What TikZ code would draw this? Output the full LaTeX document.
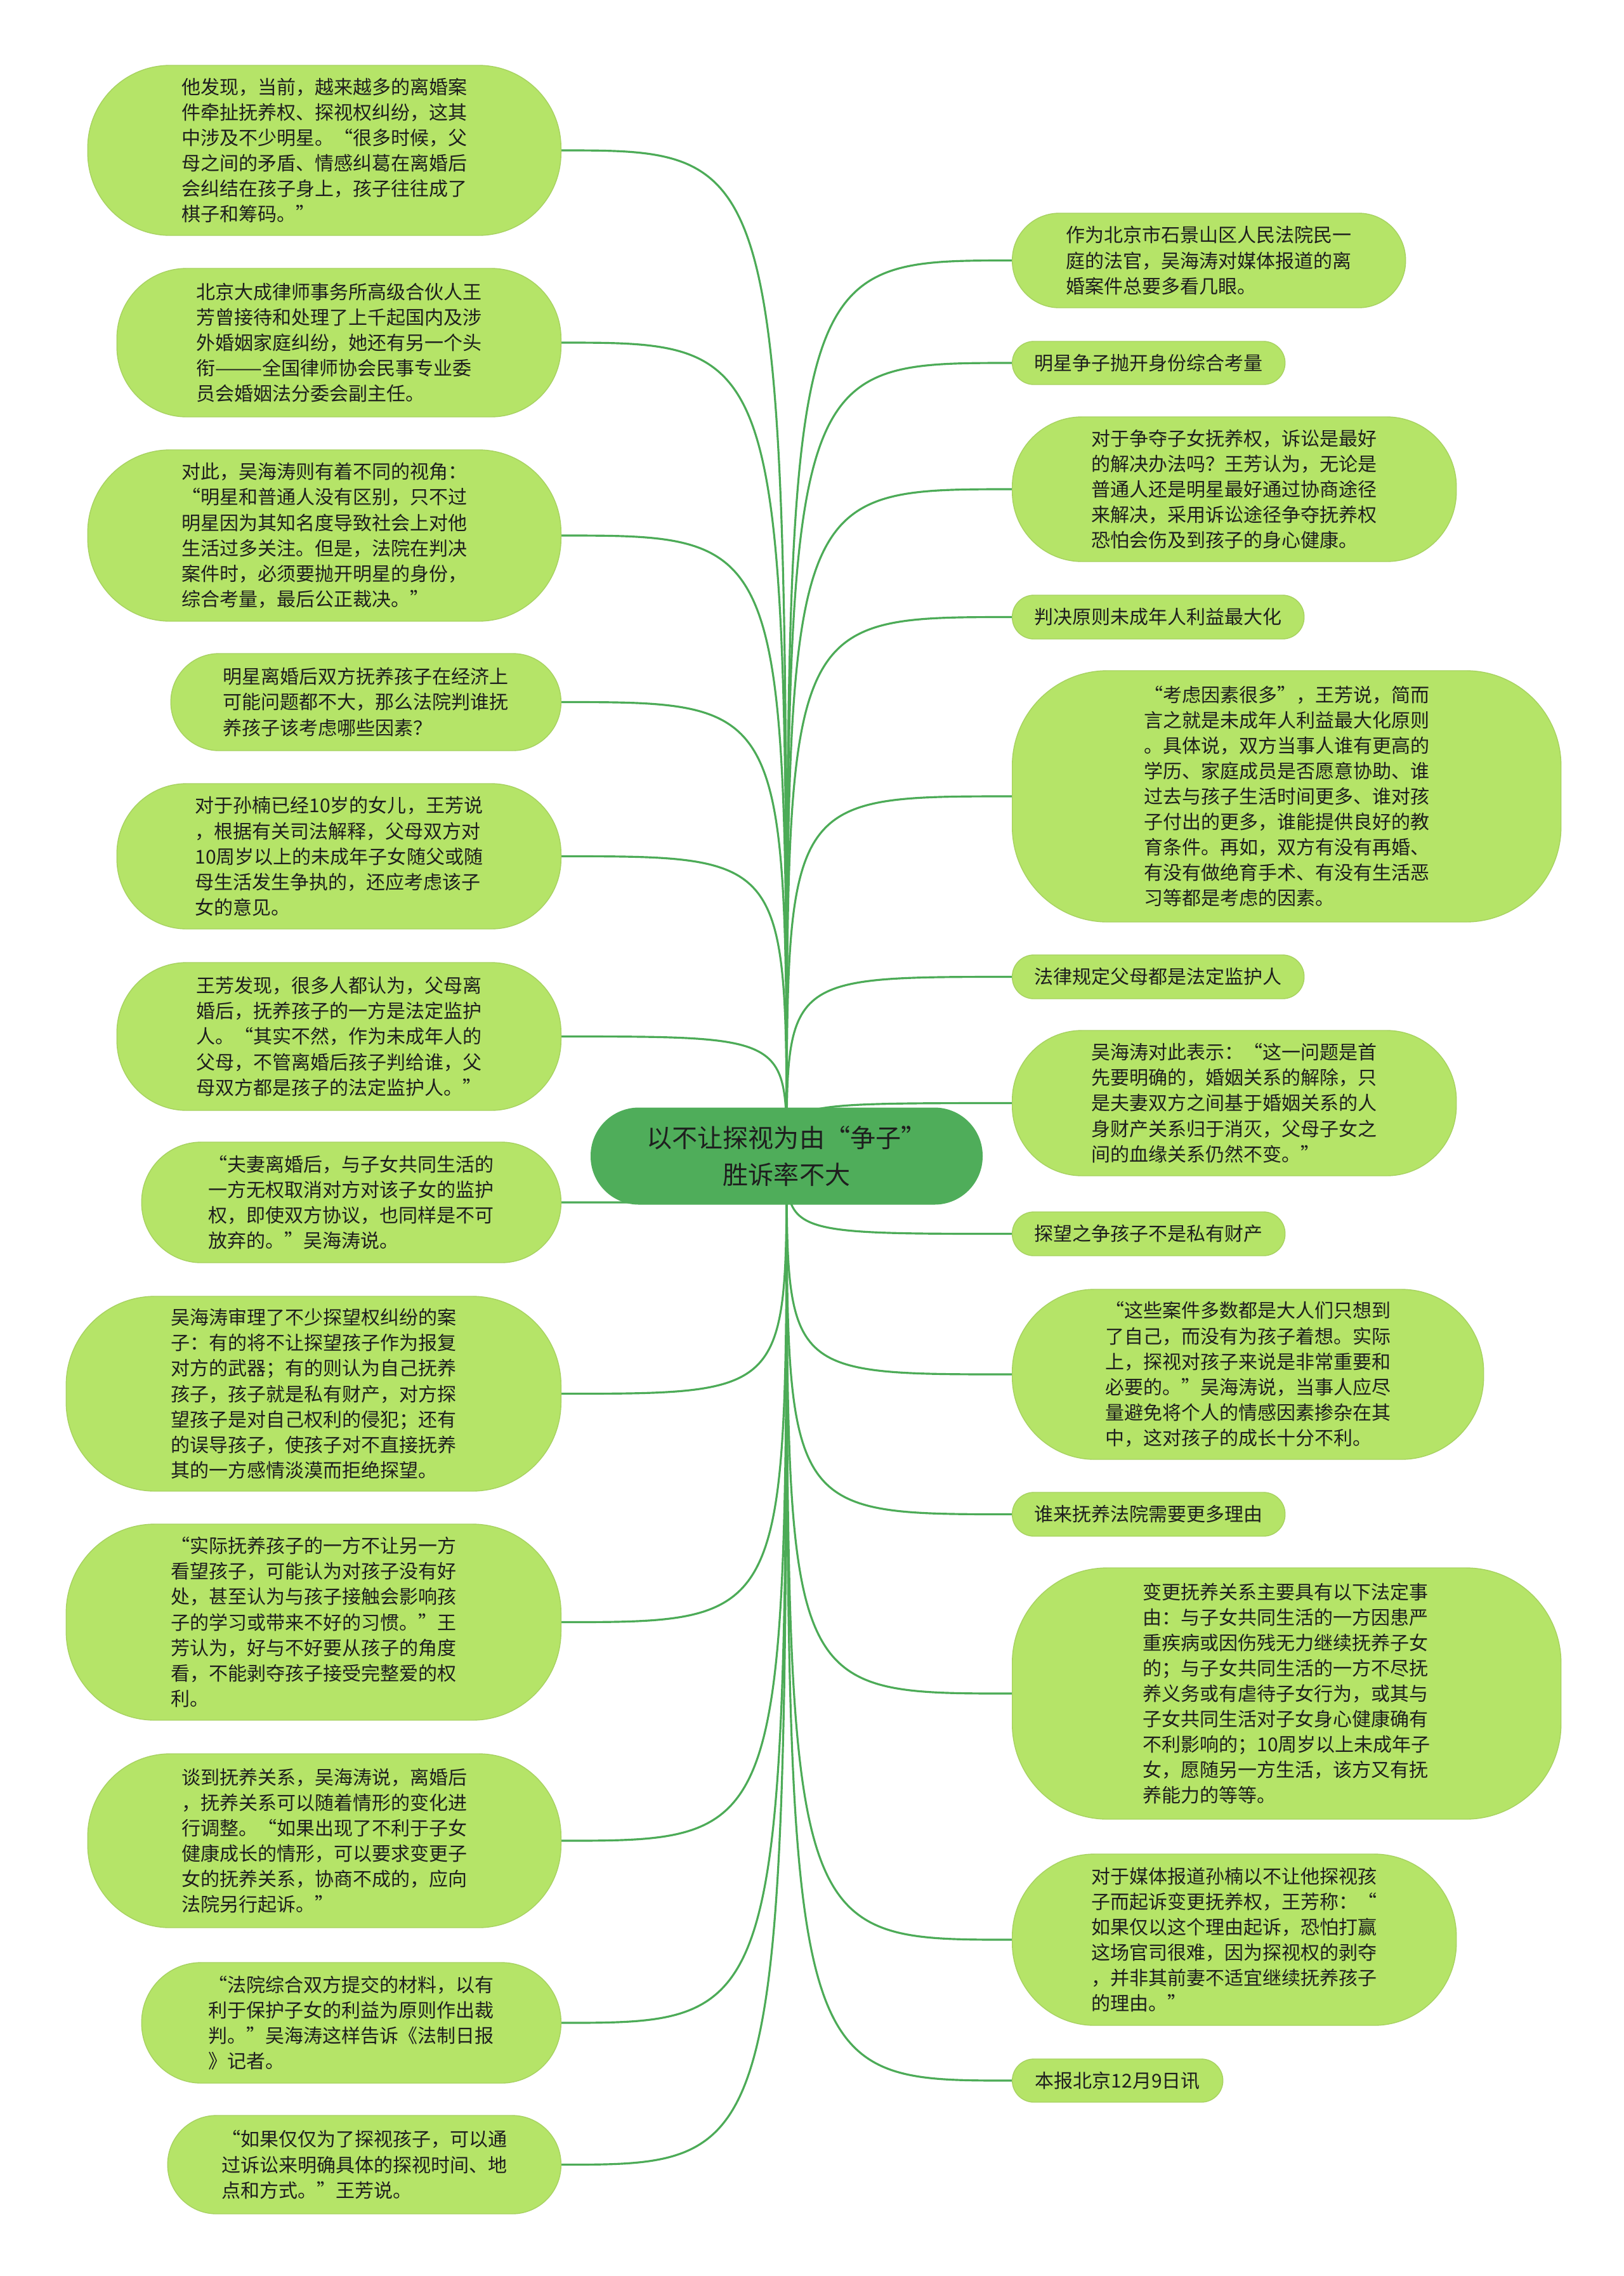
\documentclass[tikz,border=0pt]{standalone}
\usepackage{fontspec}
\usepackage{tikz}
\usetikzlibrary{backgrounds}
\newfontfamily\cjk{Noto Sans CJK SC}

\definecolor{leafgreen}{HTML}{B5E468}
\definecolor{rootgreen}{HTML}{4FAD5A}
\definecolor{linkgreen}{HTML}{4CAB57}
\definecolor{inkgray}{HTML}{1E1E1E}

\tikzset{
  rootbox/.style={fill=rootgreen, text=inkgray, align=center, inner sep=0pt,
    font=\cjk\fontsize{11.4}{16.5}\selectfont},
  topic/.style={fill=leafgreen, draw=leafgreen!92!black, line width=0.4pt,
    text=inkgray, align=left, inner sep=0pt,
    font=\cjk\fontsize{8.54}{11.4}\selectfont},
  boxdim/.style n args={3}{minimum width=#1cm, minimum height=#2cm, rounded corners=#3cm},
  link/.style={draw=linkgreen, line width=0.9pt},
}

\begin{document}
\begin{tikzpicture}[x=1cm, y=-1cm]
  \useasboundingbox (0,0) rectangle (25.6,35.87);

  % central topic
  \node[rootbox, boxdim={6.18}{1.53}{0.76}] (root) at (12.40,18.22)
    {以不让探视为由“争子”\\胜诉率不大};

  % left branch
  \node[topic, boxdim={7.46}{2.68}{1.3}, anchor=east] (l1) at (8.85,2.37)
    {他发现，当前，越来越多的离婚案\\件牵扯抚养权、探视权纠纷，这其\\中涉及不少明星。“很多时候，父\\母之间的矛盾、情感纠葛在离婚后\\会纠结在孩子身上，孩子往往成了\\棋子和筹码。”};
  \node[topic, boxdim={7.00}{2.34}{1.1}, anchor=east] (l2) at (8.85,5.40)
    {北京大成律师事务所高级合伙人王\\芳曾接待和处理了上千起国内及涉\\外婚姻家庭纠纷，她还有另一个头\\衔———全国律师协会民事专业委\\员会婚姻法分委会副主任。};
  \node[topic, boxdim={7.46}{2.70}{1.3}, anchor=east] (l3) at (8.85,8.44)
    {对此，吴海涛则有着不同的视角：\\“明星和普通人没有区别，只不过\\明星因为其知名度导致社会上对他\\生活过多关注。但是，法院在判决\\案件时，必须要抛开明星的身份，\\综合考量，最后公正裁决。”};
  \node[topic, boxdim={6.15}{1.53}{0.76}, anchor=east] (l4) at (8.85,11.065)
    {明星离婚后双方抚养孩子在经济上\\可能问题都不大，那么法院判谁抚\\养孩子该考虑哪些因素？};
  \node[topic, boxdim={7.00}{2.29}{1.1}, anchor=east] (l5) at (8.85,13.495)
    {对于孙楠已经10岁的女儿，王芳说\\，根据有关司法解释，父母双方对\\10周岁以上的未成年子女随父或随\\母生活发生争执的，还应考虑该子\\女的意见。};
  \node[topic, boxdim={7.00}{2.33}{1.1}, anchor=east] (l6) at (8.85,16.335)
    {王芳发现，很多人都认为，父母离\\婚后，抚养孩子的一方是法定监护\\人。“其实不然，作为未成年人的\\父母，不管离婚后孩子判给谁，父\\母双方都是孩子的法定监护人。”};
  \node[topic, boxdim={6.61}{1.90}{0.94}, anchor=east] (l7) at (8.85,18.95)
    {“夫妻离婚后，与子女共同生活的\\一方无权取消对方对该子女的监护\\权，即使双方协议，也同样是不可\\放弃的。”吴海涛说。};
  \node[topic, boxdim={7.80}{3.07}{1.4}, anchor=east] (l8) at (8.85,21.965)
    {吴海涛审理了不少探望权纠纷的案\\子：有的将不让探望孩子作为报复\\对方的武器；有的则认为自己抚养\\孩子，孩子就是私有财产，对方探\\望孩子是对自己权利的侵犯；还有\\的误导孩子，使孩子对不直接抚养\\其的一方感情淡漠而拒绝探望。};
  \node[topic, boxdim={7.80}{3.09}{1.4}, anchor=east] (l9) at (8.85,25.565)
    {“实际抚养孩子的一方不让另一方\\看望孩子，可能认为对孩子没有好\\处，甚至认为与孩子接触会影响孩\\子的学习或带来不好的习惯。”王\\芳认为，好与不好要从孩子的角度\\看，不能剥夺孩子接受完整爱的权\\利。};
  \node[topic, boxdim={7.46}{2.74}{1.3}, anchor=east] (l10) at (8.85,29.01)
    {谈到抚养关系，吴海涛说，离婚后\\，抚养关系可以随着情形的变化进\\行调整。“如果出现了不利于子女\\健康成长的情形，可以要求变更子\\女的抚养关系，协商不成的，应向\\法院另行起诉。”};
  \node[topic, boxdim={6.61}{1.90}{0.94}, anchor=east] (l11) at (8.85,31.88)
    {“法院综合双方提交的材料，以有\\利于保护子女的利益为原则作出裁\\判。”吴海涛这样告诉《法制日报\\》记者。};
  \node[topic, boxdim={6.20}{1.55}{0.77}, anchor=east] (l12) at (8.85,34.115)
    {“如果仅仅为了探视孩子，可以通\\过诉讼来明确具体的探视时间、地\\点和方式。”王芳说。};

  % right branch
  \node[topic, boxdim={6.20}{1.49}{0.74}, anchor=west] (r1) at (15.95,4.105)
    {作为北京市石景山区人民法院民一\\庭的法官，吴海涛对媒体报道的离\\婚案件总要多看几眼。};
  \node[topic, boxdim={4.30}{0.68}{0.34}, anchor=west] (r2) at (15.95,5.72)
    {明星争子抛开身份综合考量};
  \node[topic, boxdim={7.00}{2.28}{1.1}, anchor=west] (r3) at (15.95,7.71)
    {对于争夺子女抚养权，诉讼是最好\\的解决办法吗？王芳认为，无论是\\普通人还是明星最好通过协商途径\\来解决，采用诉讼途径争夺抚养权\\恐怕会伤及到孩子的身心健康。};
  \node[topic, boxdim={4.60}{0.69}{0.34}, anchor=west] (r4) at (15.95,9.725)
    {判决原则未成年人利益最大化};
  \node[topic, boxdim={8.65}{3.96}{1.5}, anchor=west] (r5) at (15.95,12.55)
    {“考虑因素很多”，王芳说，简而\\言之就是未成年人利益最大化原则\\。具体说，双方当事人谁有更高的\\学历、家庭成员是否愿意协助、谁\\过去与孩子生活时间更多、谁对孩\\子付出的更多，谁能提供良好的教\\育条件。再如，双方有没有再婚、\\有没有做绝育手术、有没有生活恶\\习等都是考虑的因素。};
  \node[topic, boxdim={4.60}{0.69}{0.34}, anchor=west] (r6) at (15.95,15.395)
    {法律规定父母都是法定监护人};
  \node[topic, boxdim={7.00}{2.29}{1.1}, anchor=west] (r7) at (15.95,17.385)
    {吴海涛对此表示：“这一问题是首\\先要明确的，婚姻关系的解除，只\\是夫妻双方之间基于婚姻关系的人\\身财产关系归于消灭，父母子女之\\间的血缘关系仍然不变。”};
  \node[topic, boxdim={4.30}{0.69}{0.34}, anchor=west] (r8) at (15.95,19.445)
    {探望之争孩子不是私有财产};
  \node[topic, boxdim={7.43}{2.68}{1.3}, anchor=west] (r9) at (15.95,21.66)
    {“这些案件多数都是大人们只想到\\了自己，而没有为孩子着想。实际\\上，探视对孩子来说是非常重要和\\必要的。”吴海涛说，当事人应尽\\量避免将个人的情感因素掺杂在其\\中，这对孩子的成长十分不利。};
  \node[topic, boxdim={4.30}{0.69}{0.34}, anchor=west] (r10) at (15.95,23.865)
    {谁来抚养法院需要更多理由};
  \node[topic, boxdim={8.65}{3.96}{1.5}, anchor=west] (r11) at (15.95,26.69)
    {变更抚养关系主要具有以下法定事\\由：与子女共同生活的一方因患严\\重疾病或因伤残无力继续抚养子女\\的；与子女共同生活的一方不尽抚\\养义务或有虐待子女行为，或其与\\子女共同生活对子女身心健康确有\\不利影响的；10周岁以上未成年子\\女，愿随另一方生活，该方又有抚\\养能力的等等。};
  \node[topic, boxdim={7.00}{2.70}{1.3}, anchor=west] (r12) at (15.95,30.57)
    {对于媒体报道孙楠以不让他探视孩\\子而起诉变更抚养权，王芳称：“\\如果仅以这个理由起诉，恐怕打赢\\这场官司很难，因为探视权的剥夺\\，并非其前妻不适宜继续抚养孩子\\的理由。”};
  \node[topic, boxdim={3.32}{0.68}{0.34}, anchor=west] (r13) at (15.95,32.79)
    {本报北京12月9日讯};

  % connectors
  \begin{scope}[on background layer]
    \fill[white] (0,0) rectangle (25.6,35.87);
    \foreach \i in {1,...,12}
      \draw[link] (root.center) .. controls (root.center |- l\i.east) .. (l\i.east);
    \foreach \i in {1,...,13}
      \draw[link] (root.center) .. controls (root.center |- r\i.west) .. (r\i.west);
  \end{scope}
\end{tikzpicture}
\end{document}
